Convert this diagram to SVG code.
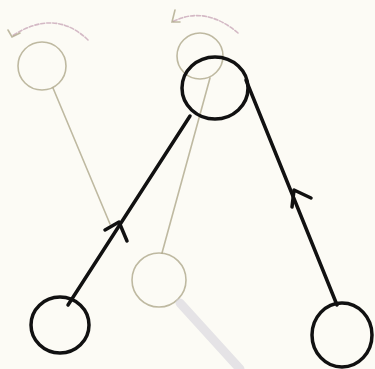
<svg xmlns="http://www.w3.org/2000/svg" width="375" height="369" viewBox="0 0 375 369">
<style>
.bold{fill:none;stroke:#111;stroke-width:3.5;stroke-linecap:round;stroke-linejoin:round}
.faint{fill:none;stroke:#a9a384;stroke-width:1.6;stroke-linecap:round;opacity:.75}
.faintarc{fill:none;stroke:#c9a9b9;stroke-width:1.6;stroke-dasharray:4 2;stroke-linecap:round;opacity:.8}
</style>
<rect width="375" height="369" fill="#fcfbf5"/>
<g id="faint-layer">
  <g id="ghost-node-a"><circle cx="42" cy="66" r="24" class="faint"/></g>
  <g id="ghost-node-b"><circle cx="200" cy="56" r="23" class="faint"/></g>
  <g id="ghost-node-c"><circle cx="159" cy="280" r="27" class="faint"/></g>
  <path d="M88,40 Q55,8 12,36" class="faintarc"/>
  <path d="M8,30 L12,37 L20,33" class="faint"/>
  <path d="M238,33 Q205,5 172,22" class="faintarc"/>
  <path d="M175,10 L172,22 L180,22" class="faint"/>
  <path d="M53,88 L110,224" class="faint"/>
  <path d="M210,78 L162,253" class="faint"/>
  <path d="M180,303 L240,369" stroke="#d6d4dc" stroke-width="9" stroke-linecap="round" fill="none" opacity=".6"/>
</g>
<g id="connectors">
  <path d="M190,116 L68,305" class="bold"/>
  <path d="M105,230 L119,222 L127,241" class="bold"/>
  <path d="M246,80 L337,305" class="bold"/>
  <path d="M292,207 L294,190 L311,198" class="bold"/>
</g>
<g id="node-top"><ellipse cx="215" cy="88" rx="33" ry="31" class="bold"/></g>
<g id="node-left"><ellipse cx="60" cy="325" rx="29" ry="28" class="bold"/></g>
<g id="node-right"><ellipse cx="342" cy="335" rx="30" ry="32" class="bold"/></g>
</svg>
